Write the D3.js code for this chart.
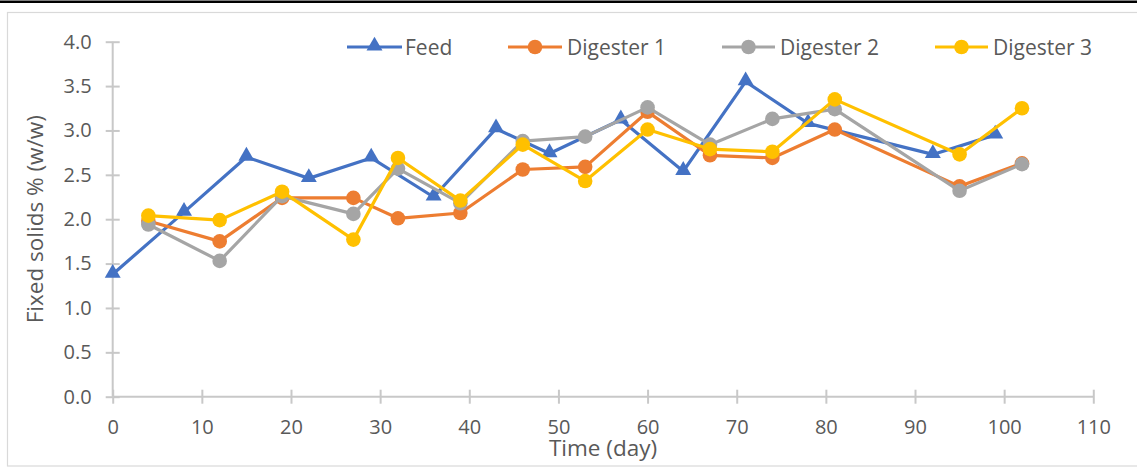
<!DOCTYPE html>
<html>
<head>
<meta charset="utf-8">
<script src="https://cdn.jsdelivr.net/npm/d3@7"></script>
<style>
  html, body { margin: 0; padding: 0; background: #fff; }
  svg { display: block; }
  text { font-family: "Open Sans", "Noto Sans", sans-serif; fill: #595959; }
</style>
</head>
<body>
<svg id="chart" width="1137" height="472"></svg>
<script>
// Sampling days
const feedDays = [0, 8, 15, 22, 29, 36, 43, 49, 57, 64, 71, 78, 92, 99];
const digesterDays = [4, 12, 19, 27, 32, 39, 46, 53, 60, 67, 74, 81, 95, 102];

// Fixed solids, % (w/w)
const feedValues = [1.38, 2.08, 2.70, 2.46, 2.69, 2.25, 3.02, 2.74, 3.12, 2.54, 3.55, 3.08, 2.73, 2.95];
const digester1Values = [1.98, 1.75, 2.24, 2.24, 2.01, 2.07, 2.56, 2.59, 3.21, 2.72, 2.69, 3.01, 2.37, 2.63];
const digester2Values = [1.94, 1.53, 2.26, 2.06, 2.57, 2.18, 2.88, 2.93, 3.26, 2.84, 3.13, 3.24, 2.32, 2.62];
const digester3Values = [2.04, 1.99, 2.31, 1.77, 2.69, 2.21, 2.84, 2.43, 3.01, 2.79, 2.76, 3.35, 2.73, 3.25];

// Axis ticks
const xTicks = [0, 10, 20, 30, 40, 50, 60, 70, 80, 90, 100, 110];
const yTicks = [0, 0.5, 1.0, 1.5, 2.0, 2.5, 3.0, 3.5, 4.0];

const series = [
  { name: "Feed", days: feedDays, values: feedValues, color: "#4472C4", marker: "triangle" },
  { name: "Digester 1", days: digesterDays, values: digester1Values, color: "#ED7D31", marker: "circle" },
  { name: "Digester 2", days: digesterDays, values: digester2Values, color: "#A5A5A5", marker: "circle" },
  { name: "Digester 3", days: digesterDays, values: digester3Values, color: "#FFC000", marker: "circle" }
];

const svg = d3.select("#chart");
const axisColor = "#c8c8c8";

// Page rule and chart frame
svg.append("rect").attr("x", 0).attr("y", 0.5).attr("width", 1137).attr("height", 2.5).attr("fill", "#000");
svg.append("rect")
  .attr("x", 7.5).attr("y", 12.5).attr("width", 1140).attr("height", 453.5)
  .attr("fill", "none").attr("stroke", "#d9d9d9").attr("stroke-width", 1.2);

const x = d3.scaleLinear().domain([0, 110]).range([112.7, 1093.3]);
const y = d3.scaleLinear().domain([0, 4]).range([396.7, 41.7]);

// Y axis
const yAxis = svg.append("g")
  .attr("transform", `translate(${x(0)},0)`)
  .call(d3.axisLeft(y).tickValues(yTicks).tickFormat(d3.format(".1f")).tickSize(7).tickPadding(14));
yAxis.select(".domain").attr("stroke", axisColor).attr("stroke-width", 2);
yAxis.selectAll(".tick line").attr("stroke", axisColor).attr("stroke-width", 2).attr("x2", 7).attr("x1", -7);
yAxis.selectAll(".tick text").attr("font-size", 20).attr("fill", "#595959")
  .style("font-family", '"Open Sans", sans-serif');
yAxis.select(".domain").attr("d", `M0,${y(0)}V${y(4)}`);

// X axis
const xAxis = svg.append("g")
  .attr("transform", `translate(0,${y(0)})`)
  .call(d3.axisBottom(x).tickValues(xTicks).tickFormat(d3.format("d")).tickSize(7).tickPadding(16));
xAxis.select(".domain").attr("stroke", axisColor).attr("stroke-width", 2).attr("d", `M${x(0)},0H${x(110)}`);
xAxis.selectAll(".tick line").attr("stroke", axisColor).attr("stroke-width", 2).attr("y1", -7).attr("y2", 7);
xAxis.selectAll(".tick text").attr("font-size", 20).attr("fill", "#595959")
  .style("font-family", '"Open Sans", sans-serif');

// Axis titles
svg.append("text")
  .attr("x", (x(0) + x(110)) / 2).attr("y", 456)
  .attr("text-anchor", "middle").attr("font-size", 22.5)
  .text("Time (day)");
svg.append("text")
  .attr("transform", `translate(43,${(y(0) + y(4)) / 2}) rotate(-90)`)
  .attr("text-anchor", "middle").attr("font-size", 22.5)
  .text("Fixed solids % (w/w)");

// Markers
const triangle = d3.symbol().type(d3.symbolTriangle).size(110);
function drawMarker(g, s, cx, cy) {
  if (s.marker === "triangle") {
    g.append("path").attr("d", triangle()).attr("transform", `translate(${cx},${cy - 1})`)
      .attr("fill", s.color);
  } else {
    g.append("circle").attr("cx", cx).attr("cy", cy).attr("r", 7.3).attr("fill", s.color);
  }
}

// Series lines and markers
const line = d3.line().x(d => x(d[0])).y(d => y(d[1]));
series.forEach(s => {
  const pts = s.days.map((d, i) => [d, s.values[i]]);
  const g = svg.append("g").attr("class", "series");
  g.append("path").datum(pts).attr("d", line)
    .attr("fill", "none").attr("stroke", s.color).attr("stroke-width", 3.2)
    .attr("stroke-linejoin", "round");
  pts.forEach(p => drawMarker(g, s, x(p[0]), y(p[1])));
});

// Legend
const legendItems = [
  { x0: 347, x1: 402, tx: 405 },
  { x0: 508, x1: 562, tx: 567 },
  { x0: 722, x1: 775, tx: 780 },
  { x0: 935, x1: 988, tx: 993 }
];
const legend = svg.append("g").attr("class", "legend");
series.forEach((s, i) => {
  const it = legendItems[i];
  const ly = 47;
  legend.append("line").attr("x1", it.x0).attr("x2", it.x1).attr("y1", ly).attr("y2", ly)
    .attr("stroke", s.color).attr("stroke-width", 3.2);
  drawMarker(legend, s, (it.x0 + it.x1) / 2, ly);
  legend.append("text").attr("x", it.tx).attr("y", ly).attr("dy", "0.36em")
    .attr("font-size", 21).text(s.name);
});
</script>
</body>
</html>
